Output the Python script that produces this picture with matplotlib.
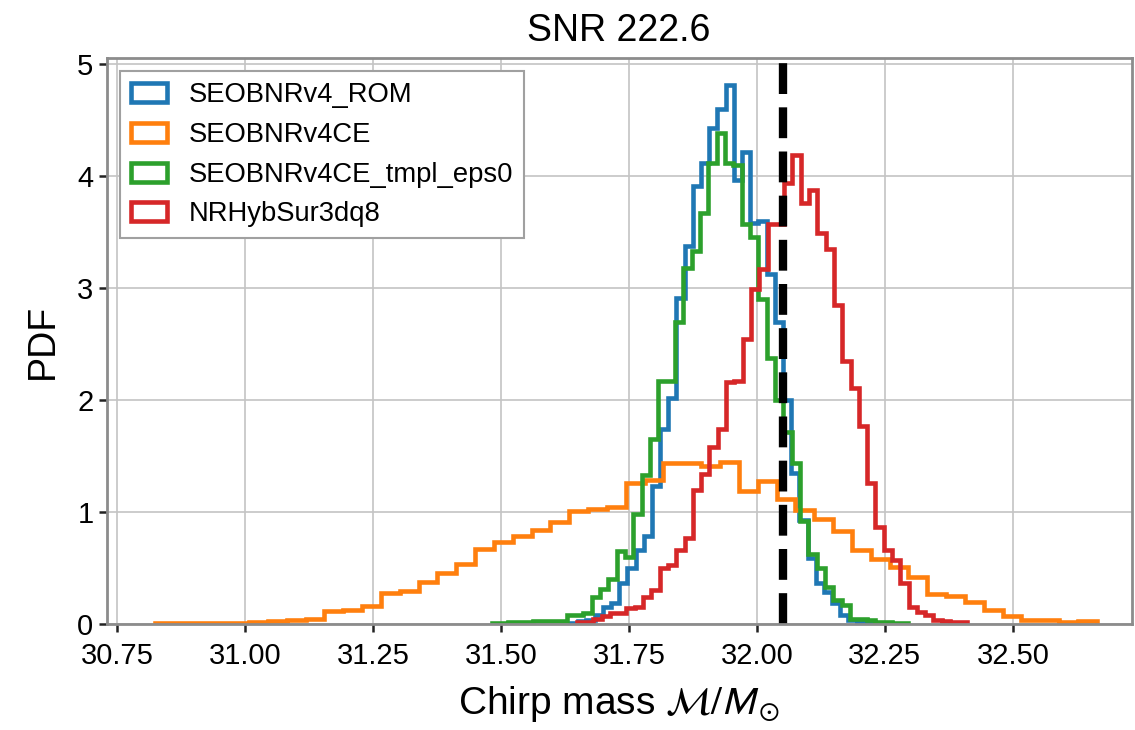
import matplotlib
matplotlib.use("Agg")
import matplotlib.pyplot as plt
import numpy as np

plt.rcParams['font.family'] = ['Liberation Sans', 'DejaVu Sans']
plt.rcParams['mathtext.fontset'] = 'stixsans'

# histogram heights (PDF), with start edge and bin width of each series
labels = ['SEOBNRv4_ROM', 'SEOBNRv4CE', 'SEOBNRv4CE_tmpl_eps0', 'NRHybSur3dq8']
colors = ['#1f77b4', '#ff7f0e', '#2ca02c', '#d62728']

rom_start, rom_width = 31.635, 0.0160
rom_pdf = [0.01, 0.03, 0.035, 0.08, 0.155, 0.19, 0.365, 0.50, 0.66, 0.79,
           1.23, 1.74, 2.02, 2.91, 3.375, 3.91, 4.12, 4.43, 4.60, 4.82,
           3.97, 4.22, 3.58, 3.60, 3.13, 2.70, 2.00, 1.35, 0.93, 0.59,
           0.365, 0.29, 0.185, 0.08, 0.04, 0.02, 0.01, 0.01]

ce_start, ce_width = 30.824, 0.0368
ce_pdf = [0.01, 0.01, 0.01, 0.01, 0.01, 0.02, 0.025, 0.035, 0.045, 0.12,
          0.13, 0.165, 0.28, 0.30, 0.38, 0.46, 0.54, 0.67, 0.73, 0.79,
          0.84, 0.915, 1.01, 1.03, 1.05, 1.26, 1.29, 1.44, 1.44, 1.41,
          1.45, 1.19, 1.28, 1.115, 1.02, 0.94, 0.83, 0.66, 0.58, 0.51,
          0.42, 0.27, 0.25, 0.20, 0.125, 0.07, 0.035, 0.035, 0.018, 0.03]

eps0_start, eps0_width = 31.482, 0.01628
eps0_pdf = [0.012, 0.012, 0.02, 0.02, 0.02, 0.025, 0.03, 0.03, 0.03, 0.08,
            0.08, 0.096, 0.24, 0.31, 0.40, 0.65, 0.60, 0.98, 1.33, 1.65,
            2.17, 2.17, 2.70, 3.18, 3.33, 3.67, 4.12, 4.39, 4.12, 4.10,
            3.57, 3.46, 2.90, 2.38, 2.00, 1.72, 1.44, 0.92, 0.63, 0.50,
            0.335, 0.215, 0.17, 0.05, 0.05, 0.036, 0.02, 0.02, 0.01, 0.01]

nr_start, nr_width = 31.648, 0.01621
nr_pdf = [0.02, 0.02, 0.05, 0.07, 0.096, 0.096, 0.14, 0.155, 0.245, 0.305,
          0.50, 0.53, 0.66, 0.77, 1.20, 1.34, 1.58, 1.74, 2.16, 2.17,
          2.55, 2.99, 3.17, 3.57, 3.57, 3.94, 4.19, 3.76, 3.88, 3.49,
          3.35, 2.85, 2.35, 2.11, 1.77, 1.26, 0.87, 0.66, 0.57, 0.365,
          0.155, 0.11, 0.08, 0.036, 0.03, 0.02, 0.02]

true_mc = 32.051
snr = 222.6

series = [(rom_start, rom_width, rom_pdf),
          (ce_start, ce_width, ce_pdf),
          (eps0_start, eps0_width, eps0_pdf),
          (nr_start, nr_width, nr_pdf)]

fig = plt.figure(figsize=(11.35, 7.3), dpi=100)
ax = fig.add_axes([0.094, 0.145, 0.903, 0.776])

for (start, width, pdf), lab, col in zip(series, labels, colors):
    pdf = np.array(pdf)
    edges = start + width * np.arange(len(pdf) + 1)
    ax.hist(edges[:-1], bins=edges, weights=pdf, histtype='step',
            color=col, lw=3.3, label=lab)

ax.axvline(true_mc, color='k', ls='--', lw=6)

ax.set_xlim(30.73, 32.732)
ax.set_ylim(0, 5.06)
ax.set_xticks([30.75, 31.0, 31.25, 31.5, 31.75, 32.0, 32.25, 32.5])
ax.set_yticks([0, 1, 2, 3, 4, 5])
ax.grid(True, color='#c4c4c4', lw=1.2)
ax.set_axisbelow(True)
for s in ax.spines.values():
    s.set_color('#8c8c8c')
    s.set_linewidth(2)
ax.tick_params(labelsize=21, length=6, width=1.8, color='#222222')
ax.tick_params(axis='x', pad=7)

ax.set_title('SNR %.1f' % snr, fontsize=27, pad=12)
ax.set_xlabel(r'Chirp mass $\mathcal{M}/M_\odot$', fontsize=28, labelpad=10)
ax.set_ylabel('PDF', fontsize=27, labelpad=12)

leg = ax.legend(loc='upper left', fontsize=19.7, fancybox=False,
                handlelength=1.3, framealpha=1, edgecolor='#a0a0a0')
leg.get_frame().set_linewidth(1.5)

fig.savefig('out.png', dpi=100)
